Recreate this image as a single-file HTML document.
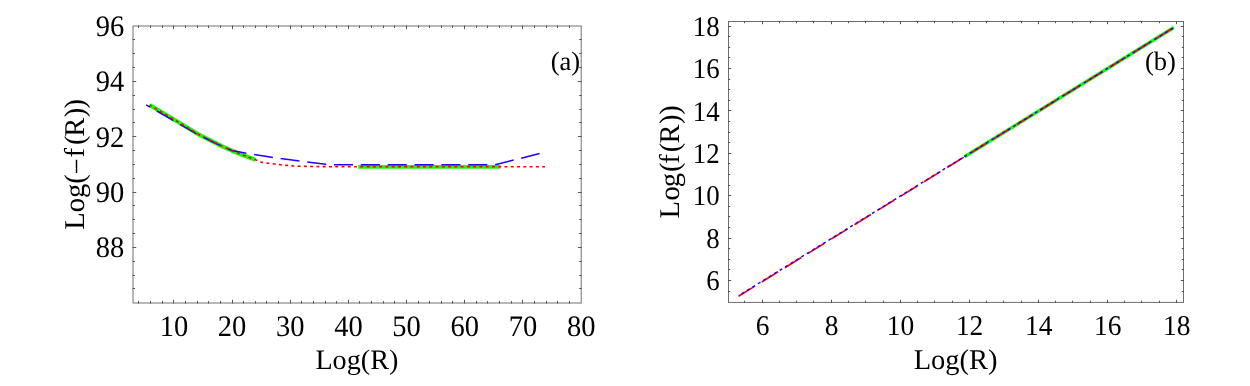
<!DOCTYPE html>
<html><head><meta charset="utf-8"><title>chart</title>
<style>html,body{margin:0;padding:0;background:#fff;width:1250px;height:386px;overflow:hidden}</style>
</head><body>
<div id="wrap" style="position:absolute;left:0;top:0;width:1250px;height:386px;will-change:transform">
<svg width="1250" height="386" viewBox="0 0 1250 386" style="display:block">
<rect width="1250" height="386" fill="#fff"/>
<path d="M149.6 105.0 L164.0 113.4 L179.8 123.0 L200.0 135.2 L223.3 146.8 L240.0 154.0 L255.5 159.8" fill="none" stroke="#10ff00" stroke-width="4.1" stroke-linejoin="round"/>
<path d="M358.2 166.8H500.3" fill="none" stroke="#10ff00" stroke-width="3.7"/>
<path id="ablue" d="M146.1 104.9 L156.9 111.0 L172.6 120.2 L195.9 133.4 L215.0 143.0 L231.7 150.5 L254.4 154.6 L280.7 158.6 L307.0 162.0 L325.5 164.3 L334.0 164.8 L495.0 164.8 L539.6 153.5" fill="none" stroke="#2200ff" stroke-width="1.5" stroke-dasharray="19.1 7.77" stroke-dashoffset="14.6" stroke-linejoin="round"/>
<path id="ared" d="M149.6 105.0 L164.0 113.4 L179.8 123.0 L200.0 135.2 L223.3 146.8 L240.0 154.0 L255.5 159.8 L262.0 162.4 L268.0 163.2 L274.3 164.0 L280.7 164.8 L287.0 165.4 L293.3 165.9 L299.7 166.2 L307.0 166.4 L320.0 166.6 L340.0 166.8 L358.0 166.8 L545.0 166.8" fill="none" stroke="#ff0000" stroke-width="1.6" stroke-dasharray="3.0 3.27" stroke-dashoffset="-5.6"/>
<rect x="133.0" y="26.0" width="448.20000000000005" height="277.0" fill="none" stroke="#727272" stroke-width="1.0"/>
<path d="M173.50 303.5v-3.7M173.50 25.5v3.7M232.50 303.5v-3.7M232.50 25.5v3.7M290.50 303.5v-3.7M290.50 25.5v3.7M348.50 303.5v-3.7M348.50 25.5v3.7M406.50 303.5v-3.7M406.50 25.5v3.7M464.50 303.5v-3.7M464.50 25.5v3.7M522.50 303.5v-3.7M522.50 25.5v3.7M138.50 303.5v-2.5M138.50 25.5v2.5M150.50 303.5v-2.5M150.50 25.5v2.5M162.50 303.5v-2.5M162.50 25.5v2.5M185.50 303.5v-2.5M185.50 25.5v2.5M197.50 303.5v-2.5M197.50 25.5v2.5M208.50 303.5v-2.5M208.50 25.5v2.5M220.50 303.5v-2.5M220.50 25.5v2.5M243.50 303.5v-2.5M243.50 25.5v2.5M255.50 303.5v-2.5M255.50 25.5v2.5M266.50 303.5v-2.5M266.50 25.5v2.5M278.50 303.5v-2.5M278.50 25.5v2.5M301.50 303.5v-2.5M301.50 25.5v2.5M313.50 303.5v-2.5M313.50 25.5v2.5M325.50 303.5v-2.5M325.50 25.5v2.5M336.50 303.5v-2.5M336.50 25.5v2.5M359.50 303.5v-2.5M359.50 25.5v2.5M371.50 303.5v-2.5M371.50 25.5v2.5M383.50 303.5v-2.5M383.50 25.5v2.5M394.50 303.5v-2.5M394.50 25.5v2.5M418.50 303.5v-2.5M418.50 25.5v2.5M429.50 303.5v-2.5M429.50 25.5v2.5M441.50 303.5v-2.5M441.50 25.5v2.5M452.50 303.5v-2.5M452.50 25.5v2.5M476.50 303.5v-2.5M476.50 25.5v2.5M487.50 303.5v-2.5M487.50 25.5v2.5M499.50 303.5v-2.5M499.50 25.5v2.5M511.50 303.5v-2.5M511.50 25.5v2.5M534.50 303.5v-2.5M534.50 25.5v2.5M546.50 303.5v-2.5M546.50 25.5v2.5M557.50 303.5v-2.5M557.50 25.5v2.5M569.50 303.5v-2.5M569.50 25.5v2.5M132.5 247.50h3.7M581.7 247.50h-3.7M132.5 192.50h3.7M581.7 192.50h-3.7M132.5 136.50h3.7M581.7 136.50h-3.7M132.5 81.50h3.7M581.7 81.50h-3.7M132.5 288.50h2.5M581.7 288.50h-2.5M132.5 275.50h2.5M581.7 275.50h-2.5M132.5 261.50h2.5M581.7 261.50h-2.5M132.5 233.50h2.5M581.7 233.50h-2.5M132.5 219.50h2.5M581.7 219.50h-2.5M132.5 205.50h2.5M581.7 205.50h-2.5M132.5 178.50h2.5M581.7 178.50h-2.5M132.5 164.50h2.5M581.7 164.50h-2.5M132.5 150.50h2.5M581.7 150.50h-2.5M132.5 122.50h2.5M581.7 122.50h-2.5M132.5 109.50h2.5M581.7 109.50h-2.5M132.5 95.50h2.5M581.7 95.50h-2.5M132.5 67.50h2.5M581.7 67.50h-2.5M132.5 53.50h2.5M581.7 53.50h-2.5M132.5 39.50h2.5M581.7 39.50h-2.5" fill="none" stroke="#555" stroke-width="1.0"/>
<text transform="translate(124.2 257.20) scale(0.96 1)" text-anchor="end" style="font-family:'Liberation Serif',serif;fill:#000;text-rendering:geometricPrecision;font-size:29.7px">88</text>
<text transform="translate(124.2 201.90) scale(0.96 1)" text-anchor="end" style="font-family:'Liberation Serif',serif;fill:#000;text-rendering:geometricPrecision;font-size:29.7px">90</text>
<text transform="translate(124.2 146.60) scale(0.96 1)" text-anchor="end" style="font-family:'Liberation Serif',serif;fill:#000;text-rendering:geometricPrecision;font-size:29.7px">92</text>
<text transform="translate(124.2 91.30) scale(0.96 1)" text-anchor="end" style="font-family:'Liberation Serif',serif;fill:#000;text-rendering:geometricPrecision;font-size:29.7px">94</text>
<text transform="translate(124.2 36.00) scale(0.96 1)" text-anchor="end" style="font-family:'Liberation Serif',serif;fill:#000;text-rendering:geometricPrecision;font-size:29.7px">96</text>
<text transform="translate(173.90 335.5) scale(0.96 1)" text-anchor="middle" style="font-family:'Liberation Serif',serif;fill:#000;text-rendering:geometricPrecision;font-size:29.7px">10</text>
<text transform="translate(232.08 335.5) scale(0.96 1)" text-anchor="middle" style="font-family:'Liberation Serif',serif;fill:#000;text-rendering:geometricPrecision;font-size:29.7px">20</text>
<text transform="translate(290.26 335.5) scale(0.96 1)" text-anchor="middle" style="font-family:'Liberation Serif',serif;fill:#000;text-rendering:geometricPrecision;font-size:29.7px">30</text>
<text transform="translate(348.44 335.5) scale(0.96 1)" text-anchor="middle" style="font-family:'Liberation Serif',serif;fill:#000;text-rendering:geometricPrecision;font-size:29.7px">40</text>
<text transform="translate(406.62 335.5) scale(0.96 1)" text-anchor="middle" style="font-family:'Liberation Serif',serif;fill:#000;text-rendering:geometricPrecision;font-size:29.7px">50</text>
<text transform="translate(464.80 335.5) scale(0.96 1)" text-anchor="middle" style="font-family:'Liberation Serif',serif;fill:#000;text-rendering:geometricPrecision;font-size:29.7px">60</text>
<text transform="translate(522.98 335.5) scale(0.96 1)" text-anchor="middle" style="font-family:'Liberation Serif',serif;fill:#000;text-rendering:geometricPrecision;font-size:29.7px">70</text>
<text transform="translate(581.16 335.5) scale(0.96 1)" text-anchor="middle" style="font-family:'Liberation Serif',serif;fill:#000;text-rendering:geometricPrecision;font-size:29.7px">80</text>
<text x="356.9" y="369" text-anchor="middle" style="font-family:'Liberation Serif',serif;fill:#000;text-rendering:geometricPrecision;font-size:28.2px">Log(R)</text>
<text transform="translate(84 229.7) rotate(-90)" style="font-family:'Liberation Serif',serif;fill:#000;text-rendering:geometricPrecision;font-size:28.6px">Log(<tspan dx="-0.5" dy="1.7">−</tspan><tspan dx="1.0" dy="-1.7">f</tspan><tspan dx="3.0">(</tspan><tspan dx="-1.4">R</tspan><tspan dx="0.4">)</tspan><tspan dx="-0.8">)</tspan></text>
<text x="565.45" y="70.4" text-anchor="middle" style="font-family:'Liberation Serif',serif;fill:#000;text-rendering:geometricPrecision;font-size:26.6px">(a)</text>
<path d="M964.5 156.80L1173.9 27.55" fill="none" stroke="#10ff00" stroke-width="3.4"/>
<path id="bred" d="M738.5 296.3L1173.5 27.8" fill="none" stroke="#ff0000" stroke-width="1.65" stroke-dasharray="19.35 7.9"/>
<path id="bblue" d="M738.97 295.43L1173.5 27.8" fill="none" stroke="#2200ff" stroke-width="1.45" stroke-dasharray="3.0 3.377" stroke-dashoffset="-3.15"/>
<rect x="728.5" y="21.5" width="455.0" height="280.9" fill="none" stroke="#6c6c6c" stroke-width="1.0"/>
<path d="M762.50 302.9v-3.2M762.50 21.0v3.2M831.50 302.9v-3.2M831.50 21.0v3.2M900.50 302.9v-3.2M900.50 21.0v3.2M969.50 302.9v-3.2M969.50 21.0v3.2M1038.50 302.9v-3.2M1038.50 21.0v3.2M1107.50 302.9v-3.2M1107.50 21.0v3.2M1176.50 302.9v-3.2M1176.50 21.0v3.2M744.50 302.9v-2.2M744.50 21.0v2.2M779.50 302.9v-2.2M779.50 21.0v2.2M796.50 302.9v-2.2M796.50 21.0v2.2M813.50 302.9v-2.2M813.50 21.0v2.2M848.50 302.9v-2.2M848.50 21.0v2.2M865.50 302.9v-2.2M865.50 21.0v2.2M883.50 302.9v-2.2M883.50 21.0v2.2M917.50 302.9v-2.2M917.50 21.0v2.2M934.50 302.9v-2.2M934.50 21.0v2.2M952.50 302.9v-2.2M952.50 21.0v2.2M986.50 302.9v-2.2M986.50 21.0v2.2M1003.50 302.9v-2.2M1003.50 21.0v2.2M1021.50 302.9v-2.2M1021.50 21.0v2.2M1055.50 302.9v-2.2M1055.50 21.0v2.2M1072.50 302.9v-2.2M1072.50 21.0v2.2M1090.50 302.9v-2.2M1090.50 21.0v2.2M1124.50 302.9v-2.2M1124.50 21.0v2.2M1141.50 302.9v-2.2M1141.50 21.0v2.2M1159.50 302.9v-2.2M1159.50 21.0v2.2M728.0 280.50h3.2M1184.0 280.50h-3.2M728.0 238.50h3.2M1184.0 238.50h-3.2M728.0 195.50h3.2M1184.0 195.50h-3.2M728.0 153.50h3.2M1184.0 153.50h-3.2M728.0 110.50h3.2M1184.0 110.50h-3.2M728.0 68.50h3.2M1184.0 68.50h-3.2M728.0 26.50h3.2M1184.0 26.50h-3.2M728.0 291.50h2.2M1184.0 291.50h-2.2M728.0 269.50h2.2M1184.0 269.50h-2.2M728.0 259.50h2.2M1184.0 259.50h-2.2M728.0 248.50h2.2M1184.0 248.50h-2.2M728.0 227.50h2.2M1184.0 227.50h-2.2M728.0 216.50h2.2M1184.0 216.50h-2.2M728.0 206.50h2.2M1184.0 206.50h-2.2M728.0 185.50h2.2M1184.0 185.50h-2.2M728.0 174.50h2.2M1184.0 174.50h-2.2M728.0 163.50h2.2M1184.0 163.50h-2.2M728.0 142.50h2.2M1184.0 142.50h-2.2M728.0 132.50h2.2M1184.0 132.50h-2.2M728.0 121.50h2.2M1184.0 121.50h-2.2M728.0 100.50h2.2M1184.0 100.50h-2.2M728.0 89.50h2.2M1184.0 89.50h-2.2M728.0 79.50h2.2M1184.0 79.50h-2.2M728.0 57.50h2.2M1184.0 57.50h-2.2M728.0 47.50h2.2M1184.0 47.50h-2.2M728.0 36.50h2.2M1184.0 36.50h-2.2" fill="none" stroke="#555" stroke-width="1.0"/>
<text transform="translate(719.6 290.10) scale(0.94 1)" text-anchor="end" style="font-family:'Liberation Serif',serif;fill:#000;text-rendering:geometricPrecision;font-size:28.6px">6</text>
<text transform="translate(762.50 334.9) scale(0.96 1)" text-anchor="middle" style="font-family:'Liberation Serif',serif;fill:#000;text-rendering:geometricPrecision;font-size:28.6px">6</text>
<text transform="translate(719.6 247.75) scale(0.94 1)" text-anchor="end" style="font-family:'Liberation Serif',serif;fill:#000;text-rendering:geometricPrecision;font-size:28.6px">8</text>
<text transform="translate(831.54 334.9) scale(0.96 1)" text-anchor="middle" style="font-family:'Liberation Serif',serif;fill:#000;text-rendering:geometricPrecision;font-size:28.6px">8</text>
<text transform="translate(719.6 205.40) scale(0.94 1)" text-anchor="end" style="font-family:'Liberation Serif',serif;fill:#000;text-rendering:geometricPrecision;font-size:28.6px">10</text>
<text transform="translate(900.58 334.9) scale(0.96 1)" text-anchor="middle" style="font-family:'Liberation Serif',serif;fill:#000;text-rendering:geometricPrecision;font-size:28.6px">10</text>
<text transform="translate(719.6 163.05) scale(0.94 1)" text-anchor="end" style="font-family:'Liberation Serif',serif;fill:#000;text-rendering:geometricPrecision;font-size:28.6px">12</text>
<text transform="translate(969.62 334.9) scale(0.96 1)" text-anchor="middle" style="font-family:'Liberation Serif',serif;fill:#000;text-rendering:geometricPrecision;font-size:28.6px">12</text>
<text transform="translate(719.6 120.70) scale(0.94 1)" text-anchor="end" style="font-family:'Liberation Serif',serif;fill:#000;text-rendering:geometricPrecision;font-size:28.6px">14</text>
<text transform="translate(1038.66 334.9) scale(0.96 1)" text-anchor="middle" style="font-family:'Liberation Serif',serif;fill:#000;text-rendering:geometricPrecision;font-size:28.6px">14</text>
<text transform="translate(719.6 78.35) scale(0.94 1)" text-anchor="end" style="font-family:'Liberation Serif',serif;fill:#000;text-rendering:geometricPrecision;font-size:28.6px">16</text>
<text transform="translate(1107.70 334.9) scale(0.96 1)" text-anchor="middle" style="font-family:'Liberation Serif',serif;fill:#000;text-rendering:geometricPrecision;font-size:28.6px">16</text>
<text transform="translate(719.6 36.00) scale(0.94 1)" text-anchor="end" style="font-family:'Liberation Serif',serif;fill:#000;text-rendering:geometricPrecision;font-size:28.6px">18</text>
<text transform="translate(1176.74 334.9) scale(0.96 1)" text-anchor="middle" style="font-family:'Liberation Serif',serif;fill:#000;text-rendering:geometricPrecision;font-size:28.6px">18</text>
<text x="955.6" y="368.7" text-anchor="middle" style="font-family:'Liberation Serif',serif;fill:#000;text-rendering:geometricPrecision;font-size:28.5px">Log(R)</text>
<text transform="translate(679 218.5) rotate(-90)" style="font-family:'Liberation Serif',serif;fill:#000;text-rendering:geometricPrecision;font-size:28.6px">L<tspan dx="0.6">o</tspan><tspan dx="-1.0">g</tspan><tspan dx="0.8">(</tspan><tspan dx="-1.3">f</tspan><tspan dx="2.0">(</tspan><tspan dx="-0.7">R</tspan><tspan dx="0.4">)</tspan><tspan dx="-0.4">)</tspan></text>
<text x="1160.4" y="70.0" text-anchor="middle" style="font-family:'Liberation Serif',serif;fill:#000;text-rendering:geometricPrecision;font-size:26.6px">(b)</text>
</svg>
</div>
</body></html>
